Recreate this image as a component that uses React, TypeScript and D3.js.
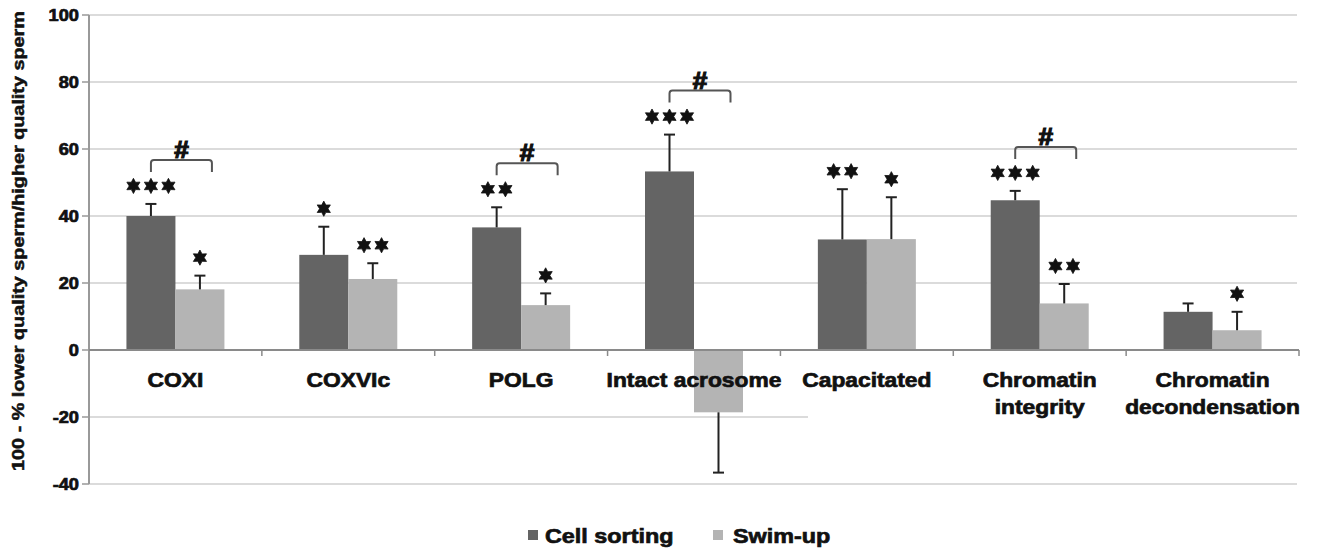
import React from "react";
import * as d3 from "d3";

// chart values
const categories = ["COXI", "COXVIc", "POLG", "Intact acrosome", "Capacitated", "Chromatin integrity", "Chromatin decondensation"];
const categoryLines = [["COXI"], ["COXVIc"], ["POLG"], ["Intact acrosome"], ["Capacitated"], ["Chromatin", "integrity"], ["Chromatin", "decondensation"]];
const seriesNames = ["Cell sorting", "Swim-up"];
const cellSorting = [40.0, 28.4, 36.6, 53.3, 33.0, 44.7, 11.4];
const cellSortingErr = [3.6, 8.4, 6.0, 11.0, 15.0, 2.8, 2.5];
const swimUp = [18.1, 21.2, 13.4, -18.6, 33.1, 13.9, 5.9];
const swimUpErr = [4.1, 4.7, 3.5, 18.0, 12.5, 5.8, 5.5];
const cellSortingStars = [3, 1, 2, 3, 2, 3, 0];
const swimUpStars = [1, 2, 1, 0, 1, 2, 1];
const hashGroups = [0, 2, 3, 5];
const yTicks = [-40, -20, 0, 20, 40, 60, 80, 100];

const W = 1336;
const H = 548;
const FONT = "'Liberation Sans', Arial, sans-serif";
const DARK = "#646464";
const LIGHT = "#b4b4b4";
const SX = 1.14;

const x = d3.scaleBand<string>().domain(categories).range([89, 1299]).paddingInner(0).paddingOuter(0);
const xs = d3.scaleBand<string>().domain(seriesNames).range([0, x.bandwidth()]).paddingInner(0).paddingOuter(0.764);
const y = d3.scaleLinear().domain([-40, 100]).range([484, 15]);

const starPath = (() => {
  const pts: [number, number][] = [];
  for (let i = 0; i < 12; i++) {
    const r = i % 2 === 0 ? 7.6 : 4.2;
    const a = (i * Math.PI) / 6;
    pts.push([a, r]);
  }
  return d3.lineRadial().curve(d3.curveLinearClosed)(pts) as string;
})();

function Stars({ n, cx, cy }: { n: number; cx: number; cy: number }) {
  const gap = 17.5;
  const start = cx - ((n - 1) * gap) / 2;
  return (
    <g>
      {d3.range(n).map((i) => (
        <path key={i} d={starPath} transform={`translate(${start + i * gap},${cy})`} fill="#111" stroke="#111" strokeWidth={0.8} strokeLinejoin="round" />
      ))}
    </g>
  );
}

function T({ x: tx, y: ty, size, children, anchor = "middle", rotate = 0, heavy = 0.7, sx = SX }: any) {
  return (
    <text
      transform={`translate(${tx},${ty}) rotate(${rotate}) scale(${sx},1)`}
      textAnchor={anchor}
      fontFamily={FONT}
      fontWeight="bold"
      fontSize={size}
      fill="#111"
      stroke="#111"
      strokeWidth={heavy}
    >
      {children}
    </text>
  );
}

export default function App() {
  const x0 = 89;
  const x1 = 1297;
  const bars = categories.flatMap((c, i) => [
    { c, i, s: seriesNames[0], v: cellSorting[i], e: cellSortingErr[i], stars: cellSortingStars[i], color: DARK },
    { c, i, s: seriesNames[1], v: swimUp[i], e: swimUpErr[i], stars: swimUpStars[i], color: LIGHT },
  ]);

  return (
    <svg width={W} height={H} style={{ position: "absolute", left: 0, top: 0, background: "#fff" }}>
      {/* grid */}
      {yTicks.filter((t) => t !== 0).map((t) => (
        <line key={t} x1={x0} x2={t === -20 ? 808 : x1} y1={y(t)} y2={y(t)} stroke="#cfcfcf" strokeWidth={1.6} />
      ))}
      {/* y ticks and labels */}
      {yTicks.map((t) => (
        <g key={t}>
          <line x1={82} x2={x0} y1={y(t)} y2={y(t)} stroke="#999" strokeWidth={1.5} />
          <T x={79} y={y(t) + 5.5} size={16} anchor="end">{t}</T>
        </g>
      ))}
      <T x={24} y={241} size={16.5} rotate={-90} heavy={0.5} sx={1.2}>100 - % lower quality sperm/higher quality sperm</T>

      {/* bars */}
      {bars.map((b) => {
        const bx = (x(b.c) as number) + (xs(b.s) as number);
        const top = Math.min(y(b.v), y(0));
        const h = Math.abs(y(b.v) - y(0));
        return <rect key={b.c + b.s} x={bx} y={top} width={xs.bandwidth()} height={h} fill={b.color} />;
      })}

      {/* axes lines */}
      <line x1={x0} x2={x0} y1={y(100)} y2={y(-40)} stroke="#999" strokeWidth={2} />
      <line x1={x0} x2={1299} y1={y(0)} y2={y(0)} stroke="#8a8a8a" strokeWidth={2} />
      {categories.map((c) => (
        <line key={c} x1={(x(c) as number) + x.bandwidth()} x2={(x(c) as number) + x.bandwidth()} y1={y(0)} y2={y(0) + 6} stroke="#8a8a8a" strokeWidth={1.5} />
      ))}

      {/* error bars */}
      {bars.map((b) => {
        const cx = (x(b.c) as number) + (xs(b.s) as number) + xs.bandwidth() / 2;
        const end = b.v >= 0 ? b.v + b.e : b.v - b.e;
        return (
          <g key={"e" + b.c + b.s} stroke="#222" strokeWidth={2}>
            <line x1={cx} x2={cx} y1={y(b.v)} y2={y(end)} />
            <line x1={cx - 5.5} x2={cx + 5.5} y1={y(end)} y2={y(end)} />
          </g>
        );
      })}

      {/* category labels */}
      {categories.map((c, i) => {
        const cx = (x(c) as number) + x.bandwidth() / 2;
        return (
          <g key={"l" + c}>
            {categoryLines[i].map((line, k) => (
              <T key={k} x={cx} y={387 + k * 26.5} size={20}>{line}</T>
            ))}
          </g>
        );
      })}

      {/* significance stars */}
      {bars.filter((b) => b.stars > 0).map((b) => {
        const cx = (x(b.c) as number) + (xs(b.s) as number) + xs.bandwidth() / 2;
        const end = b.v >= 0 ? b.v + b.e : b.v;
        return <Stars key={"s" + b.c + b.s} n={b.stars} cx={cx} cy={y(end) - 18} />;
      })}

      {/* # brackets */}
      {hashGroups.map((i) => {
        const c = categories[i];
        const bx0 = (x(c) as number) + (xs(seriesNames[0]) as number) + xs.bandwidth() / 2;
        const bx1 = (x(c) as number) + (xs(seriesNames[1]) as number) + xs.bandwidth() / 2 + 12;
        const top = y(cellSorting[i] + cellSortingErr[i]) - 44;
        const p = d3.path();
        p.moveTo(bx0, top + 12);
        p.lineTo(bx0, top + 3);
        p.quadraticCurveTo(bx0, top, bx0 + 3, top);
        p.lineTo(bx1 - 3, top);
        p.quadraticCurveTo(bx1, top, bx1, top + 3);
        p.lineTo(bx1, top + 12);
        return (
          <g key={"h" + i}>
            <path d={p.toString()} fill="none" stroke="#555" strokeWidth={2} />
            <T x={(bx0 + bx1) / 2} y={top - 2} size={23} heavy={1.2}>#</T>
          </g>
        );
      })}

      {/* legend */}
      <rect x={528} y={530} width={10} height={10} fill={DARK} />
      <T x={545} y={543} size={20.5} anchor="start">{seriesNames[0]}</T>
      <rect x={713} y={530} width={10} height={10} fill={LIGHT} />
      <T x={733} y={543} size={20.5} anchor="start">{seriesNames[1]}</T>
    </svg>
  );
}
